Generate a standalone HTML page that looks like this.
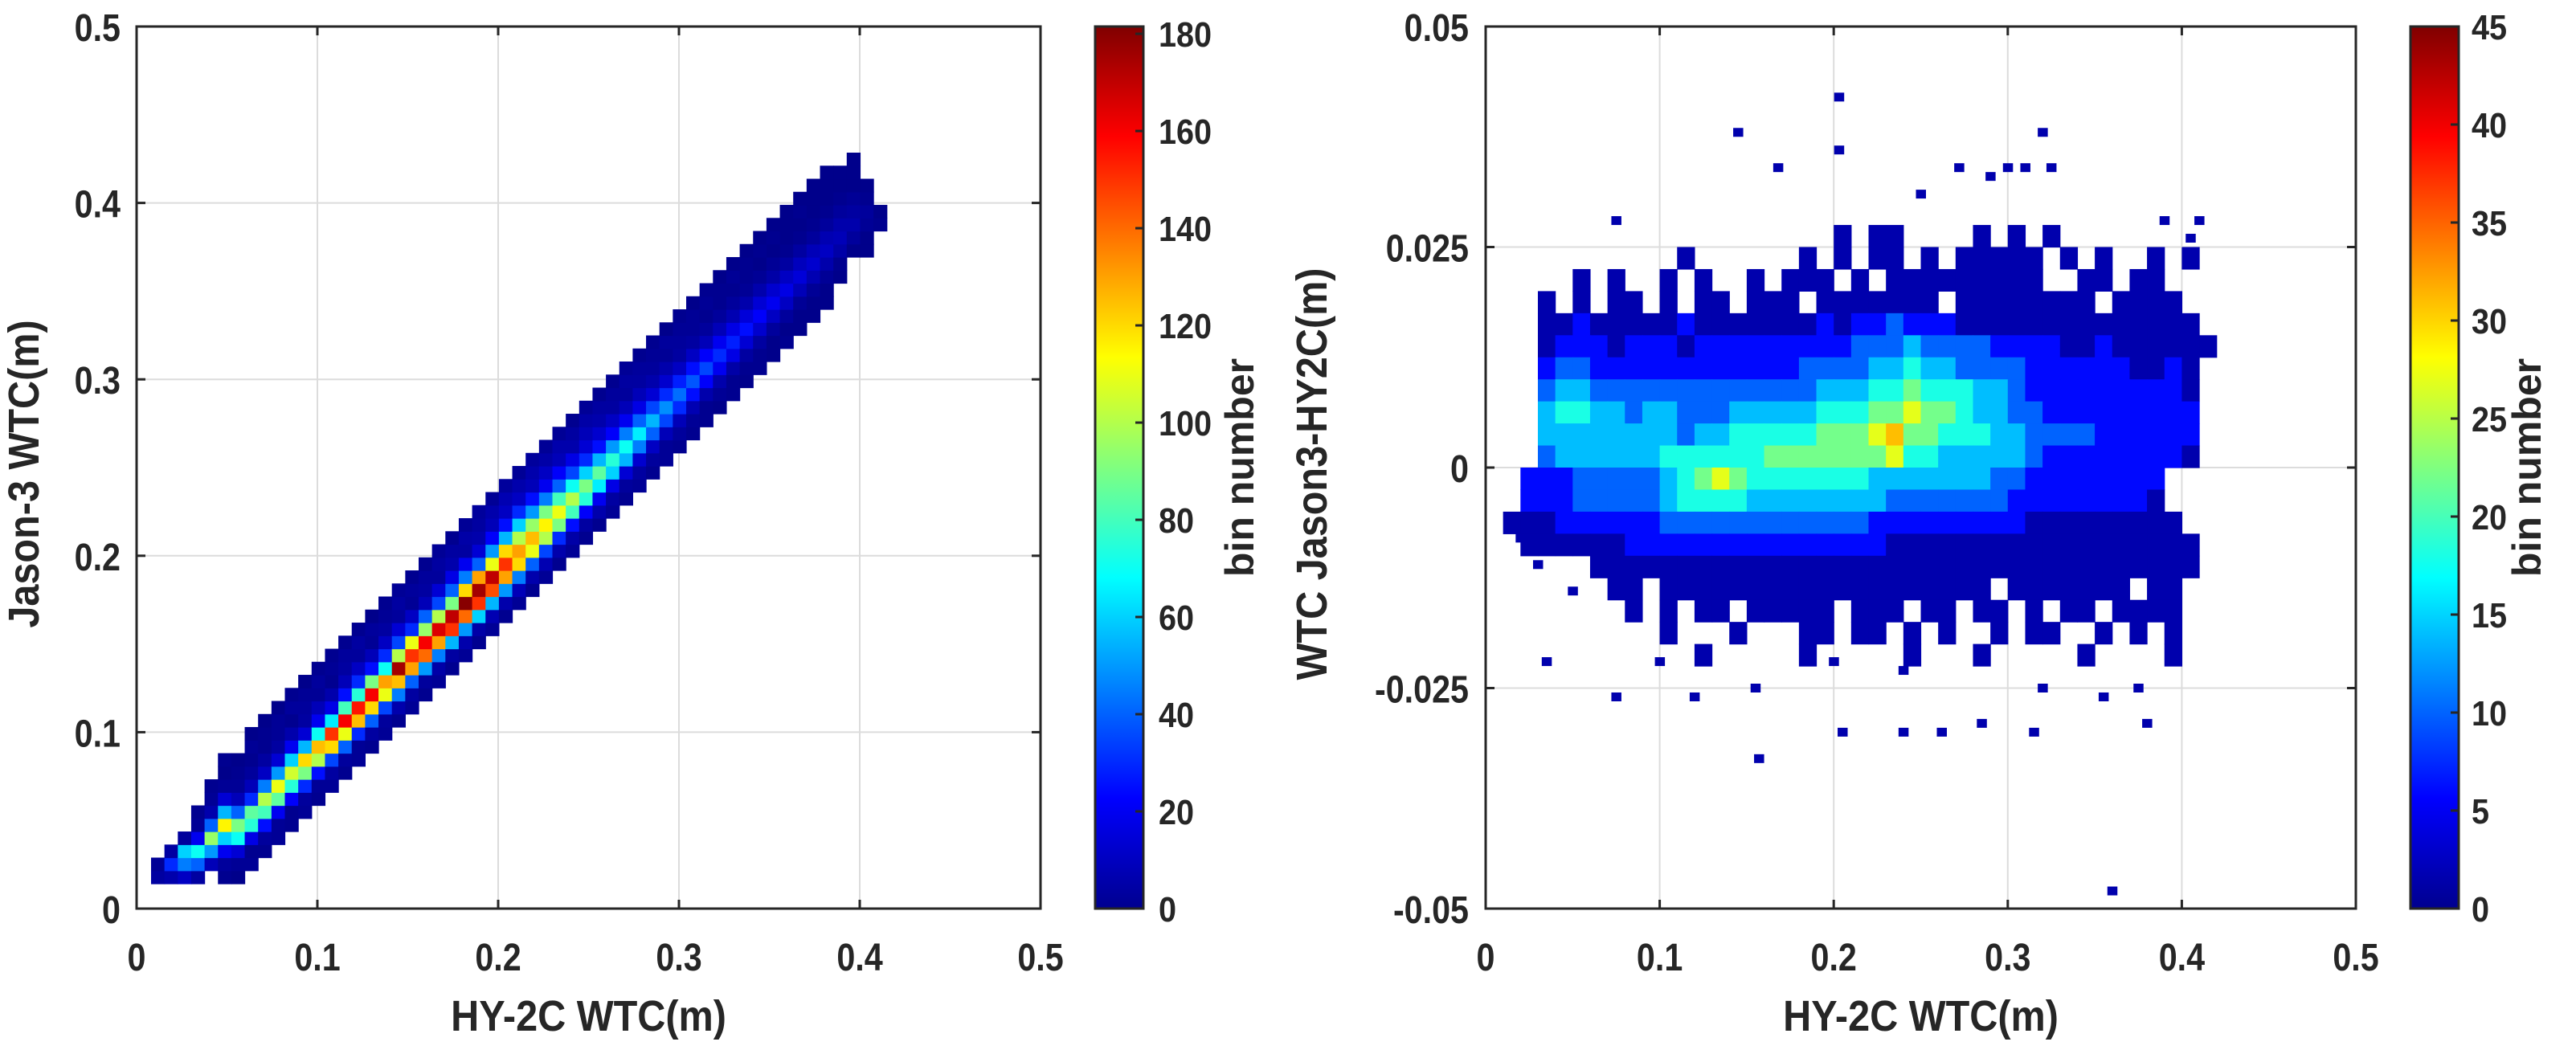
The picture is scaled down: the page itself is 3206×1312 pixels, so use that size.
<!DOCTYPE html>
<html><head><meta charset="utf-8"><style>
html,body{margin:0;padding:0;background:#fff;}
svg{display:block;font-family:"Liberation Sans",sans-serif;}
</style></head><body>
<svg id="fig" width="3206" height="1312" viewBox="0 0 3206 1312" xmlns="http://www.w3.org/2000/svg">
<defs>
<linearGradient id="jetg" x1="0" y1="1" x2="0" y2="0">
<stop offset="0" stop-color="#00008f"/><stop offset="0.125" stop-color="#0000ff"/><stop offset="0.375" stop-color="#00ffff"/><stop offset="0.625" stop-color="#ffff00"/><stop offset="0.875" stop-color="#ff0000"/><stop offset="1" stop-color="#800000"/>
</linearGradient>
</defs>
<g id="left"></g>
<g id="right"></g>
</svg>
<script>
// ---------- LEFT PANEL DATA ----------
const leftXTicks = [0, 0.1, 0.2, 0.3, 0.4, 0.5];
const leftYTicks = [0, 0.1, 0.2, 0.3, 0.4, 0.5];
const leftCbTicks = [0, 20, 40, 60, 80, 100, 120, 140, 160, 180];
const leftBin = 0.0074, leftX0 = 0.008, leftY0 = 0.0141;
// per column: start row index, then counts going upward
const leftStarts = [0,0,0,0,0,0,0,1,2,3,4,5,6,7,8,9,10,11,12,13,14,15,16,17,18,19,20,21,22,23,24,25,26,27,28,29,30,31,32,33,34,35,36,37,38,39,40,41,42,43,44,45,46,48,50];
const leftCounts = [
[6,4],[8,30,6],[12,45,60,5],[6,40,70,20,4,3],[0,10,50,95,40,8,4,3],
[3,5,20,60,115,55,15,4,2,3],[2,4,15,70,90,40,10,4,3,2],[4,3,18,75,85,30,10,5,3,4,2],[3,5,25,80,100,45,12,6,3,3,2],[4,4,20,85,110,50,15,6,4,4,2],
[3,3,22,75,105,60,20,8,3,5,3],[4,5,30,90,120,55,15,6,5,4,2],[3,4,25,100,125,70,20,10,4,5,3],[4,6,35,120,150,65,18,8,3,4,3],[3,5,40,110,160,80,25,10,6,5,3],
[4,4,30,125,155,75,30,12,5,6,3],[3,6,40,120,160,90,25,10,4,5,2],[4,5,35,110,130,70,30,12,6,4,3],[3,8,45,125,175,100,35,15,5,6,4],[4,6,40,130,150,110,30,12,4,5,3],
[3,5,50,140,160,95,40,10,6,5,3],[4,7,45,130,165,100,35,15,5,6,4],[3,6,55,150,170,90,40,18,8,6,3],[4,8,50,140,180,120,45,20,6,7,4],[3,7,60,150,175,130,40,15,8,6,5],
[4,9,55,145,170,110,50,22,10,8,4],[3,8,50,130,150,120,55,25,12,9,5],[4,10,45,120,130,100,60,30,12,8,4],[3,8,40,110,125,95,50,25,10,8,5],[4,9,35,100,115,90,45,20,12,7,4],
[3,8,30,90,110,80,40,22,10,8,4],[4,7,25,80,100,70,35,18,8,6,3],[3,6,22,75,90,60,30,15,10,7,4],[3,8,20,65,85,55,25,14,8,6,3],[4,6,18,60,75,50,22,12,6,5,3],
[3,5,15,55,70,45,20,10,5,6,4],[4,6,14,45,65,40,18,10,6,5,3],[3,5,12,40,55,35,15,8,5,4,3],[4,4,10,35,48,30,14,8,4,5,2],[3,5,10,30,42,28,12,6,5,4,3],
[3,4,9,25,38,25,12,6,4,4,2],[3,3,8,22,35,22,10,5,3,4,3],[2,4,8,20,30,20,10,5,3,3,2],[3,3,7,18,28,18,9,5,3,4,2],[2,3,6,15,25,16,8,4,3,3,2],
[3,3,6,14,22,15,8,4,2,3,2],[2,2,5,12,20,14,7,4,2,3,2],[3,2,5,12,18,12,6,3,2,2,2],[2,2,4,10,16,11,6,3,2,3,2],[2,2,4,9,14,10,5,3,2,2,2],
[2,2,4,8,12,9,5,3,2,2,2],[0,2,3,7,10,8,5,3,2,2],[0,0,2,5,8,6,4,2,2,2],[2,2,4,5,3,2],[3,2]
];
// ---------- RIGHT PANEL DATA ----------
const rightXTicks = [0, 0.1, 0.2, 0.3, 0.4, 0.5];
const rightYTicks = [-0.05, -0.025, 0, 0.025, 0.05];
const rightYTickLabels = ["-0.05", "-0.025", "0", "0.025", "0.05"];
const rightCbTicks = [0, 5, 10, 15, 20, 25, 30, 35, 40, 45];
const rightBinX = 0.01, rightBinY = 0.0025, rightTopRow = 9;
const rightLevelValues = [2, 6, 10, 14, 18, 22, 27, 31, 36, 42];
const rightRows = [
"....................0.00....0.0.0.........",
"...........0......0.0.00.0.00000.0.0..0.0.",
".....0.0..0.0..0.000.0.000000000..00.00...",
"...0.0.00.0.00.000.0000000.00000000.0000..",
"...00100000100000001011211100000000000000.",
"...011101110111111111222322221111001000000",
"...12211111111111122223343322221111110010.",
"...23322222222222223334454443321111111110.",
"...34433233222333334445565543322111111111.",
"...33333333233444445556755444332222111111.",
"...23333334444445555555644333332111111110.",
"..1112222234565444444433333332211111111.",
"..1112222234444333333332222222111111110.",
".000111111222222222222111111111000000000..",
"..000000111111111111111000000000000000000..",
"......00000000000000000000000000000000000..",
".......00.0000000000000000000.0000000.00...",
"........0.0.00.00000.000.00.00.0.00.0000...",
"..........0...0...00.00.0.0..0.00..0.0.0...",
"............0.....0.....0...0.....0....0..."
];
const rightOutliers = [[0.145,0.038],[0.203,0.042],[0.203,0.036],[0.168,0.034],[0.272,0.034],[0.3,0.034],[0.32,0.038],[0.29,0.033],[0.31,0.034],[0.325,0.034],[0.25,0.031],[0.075,0.028],[0.41,0.028],[0.39,0.028],[0.405,0.026],[0.36,-0.048],[0.157,-0.033],[0.315,-0.03],[0.205,-0.03],[0.24,-0.03],[0.262,-0.03],[0.285,-0.029],[0.38,-0.029],[0.075,-0.026],[0.12,-0.026],[0.155,-0.025],[0.035,-0.022],[0.1,-0.022],[0.2,-0.022],[0.24,-0.023],[0.32,-0.025],[0.355,-0.026],[0.375,-0.025],[0.05,-0.014],[0.065,-0.012],[0.03,-0.011],[0.015,-0.006],[0.02,-0.008]];

// ---------- HELPERS ----------
const NS = "http://www.w3.org/2000/svg";
function mk(tag, attrs, parent){const e=document.createElementNS(NS,tag);for(const k in attrs)e.setAttribute(k,attrs[k]);parent.appendChild(e);return e;}
function jet(t){t=Math.max(0,Math.min(1,t));
 const r=Math.max(0,Math.min(1,Math.min(4*t-1.5,-4*t+4.5)));
 const g=Math.max(0,Math.min(1,Math.min(4*t-0.5,-4*t+3.5)));
 const b=Math.max(0,Math.min(1,Math.min(4*t+0.5,-4*t+2.5)));
 return `rgb(${Math.round(r*255)},${Math.round(g*255)},${Math.round(b*255)})`;}
function txt(parent,x,y,s,size,anchor,sx,weight,rot){
 const g=mk('g',{transform:`translate(${x},${y})`+(rot?` rotate(${rot})`:'')+` scale(${sx},1)`},parent);
 const t=mk('text',{x:0,y:0,'font-size':size,'font-weight':weight||'bold','text-anchor':anchor,fill:'#262626'},g);
 t.textContent=s;return t;}

function axesFrame(g,L,R,T,B,xTicks,yTicks,xs,ys){
 const grid=mk('g',{},g);
 
 
 xTicks.forEach(v=>{mk('line',{x1:xs(v),x2:xs(v),y1:T,y2:B,stroke:'#dcdcdc','stroke-width':2},grid);});
 yTicks.forEach(v=>{mk('line',{x1:L,x2:R,y1:ys(v),y2:ys(v),stroke:'#dcdcdc','stroke-width':2},grid);});
 return grid;}

function axesBox(g,L,R,T,B,xTicks,yTicks,xs,ys,yLabels,xTitle,yTitle,yTitleX,yLabelRight){
 const box=mk('rect',{x:L,y:T,width:R-L,height:B-T,fill:'none',stroke:'#262626','stroke-width':3},g);
 
 
 xTicks.forEach(v=>{const x=xs(v);
  mk('line',{x1:x,x2:x,y1:B,y2:B-11,stroke:'#262626','stroke-width':3},g);
  mk('line',{x1:x,x2:x,y1:T,y2:T+11,stroke:'#262626','stroke-width':3},g);
  const t=txt(g,x,B+77,String(v),48,'middle',0.86);
  
  });
 yTicks.forEach((v,i)=>{const y=ys(v);
  mk('line',{x1:L,x2:L+11,y1:y,y2:y,stroke:'#262626','stroke-width':3},g);
  mk('line',{x1:R,x2:R-11,y1:y,y2:y,stroke:'#262626','stroke-width':3},g);
  const t=txt(g,yLabelRight,y+18,yLabels[i],48,'end',0.86);
  
  });
 const xt=txt(g,(L+R)/2,1283,xTitle,54,'middle',0.9);
 
 
 const yt=txt(g,yTitleX,(T+B)/2+8,yTitle,54,'middle',0.9,'bold',-90);
 
 }

function colorbar(g,L,R,T,B,ticks,maxV,labelX,titleX){
 const cb=mk('rect',{x:L,y:T,width:R-L,height:B-T,fill:'url(#jetg)',stroke:'#262626','stroke-width':3},g);
 
 
 ticks.forEach(v=>{const y=B-(v/maxV)*(B-T);
  mk('line',{x1:R,x2:R-10,y1:y,y2:y,stroke:'#262626','stroke-width':3},g);
  const t=txt(g,labelX,y+16,String(v),44,'start',0.9);
  
  });
 const ct=txt(g,titleX,(T+B)/2,'bin number',50,'middle',1.0,'bold',-90);
 
 }

// ---------- LEFT PANEL ----------
(function(){
 const g=document.getElementById('left');
 const L=170,R=1295,T=33,B=1131, maxV=181.5;
 const xs=v=>L+(v-0)/0.5*(R-L), ys=v=>B-(v-0)/0.5*(B-T);
 axesFrame(g,L,R,T,B,leftXTicks,leftYTicks,xs,ys);
 const cells=mk('g',{},g);
 
 
 leftCounts.forEach((col,i)=>{
  const x0=leftX0+i*leftBin;
  col.forEach((c,k)=>{ if(c<=0) return;
   const j=leftStarts[i]+k; const y0=leftY0+j*leftBin;
   const r=mk('rect',{x:xs(x0),y:ys(y0+leftBin),width:xs(x0+leftBin)-xs(x0)+0.6,height:ys(y0)-ys(y0+leftBin)+0.6,fill:jet(c/maxV)},cells);
   
   
  });});
 axesBox(g,L,R,T,B,leftXTicks,leftYTicks,xs,ys,leftYTicks.map(String),'HY-2C WTC(m)','Jason-3 WTC(m)',48,150);
 colorbar(g,1363,1423,T,B,leftCbTicks,maxV,1442,1560);
})();

// ---------- RIGHT PANEL ----------
(function(){
 const g=document.getElementById('right');
 const L=1849,R=2932,T=33,B=1131, maxV=45;
 const xs=v=>L+(v-0)/0.5*(R-L), ys=v=>B-(v+0.05)/0.1*(B-T);
 axesFrame(g,L,R,T,B,rightXTicks,rightYTicks,xs,ys);
 const cells=mk('g',{},g);
 
 
 rightRows.forEach((row,ri)=>{
  const yTop=0.05-(rightTopRow+ri)*rightBinY;
  for(let c=0;c<row.length;c++){const ch=row[c]; if(ch<'0'||ch>'9') continue;
   const v=rightLevelValues[+ch]; const x0=c*rightBinX;
   const r=mk('rect',{x:xs(x0),y:ys(yTop),width:xs(x0+rightBinX)-xs(x0)+0.6,height:ys(yTop-rightBinY)-ys(yTop)+0.6,fill:jet(v/maxV)},cells);
   
   
  }});
 rightOutliers.forEach(p=>{
  const r=mk('rect',{x:xs(p[0])-6,y:ys(p[1])-5.5,width:12.5,height:11,fill:jet(2/maxV)},cells);
  
  });
 axesBox(g,L,R,T,B,rightXTicks,rightYTicks,xs,ys,rightYTickLabels,'HY-2C WTC(m)','WTC  Jason3-HY2C(m)',1651,1828);
 colorbar(g,3000,3060,T,B,rightCbTicks,maxV,3076,3162);
})();
</script>
</body></html>
